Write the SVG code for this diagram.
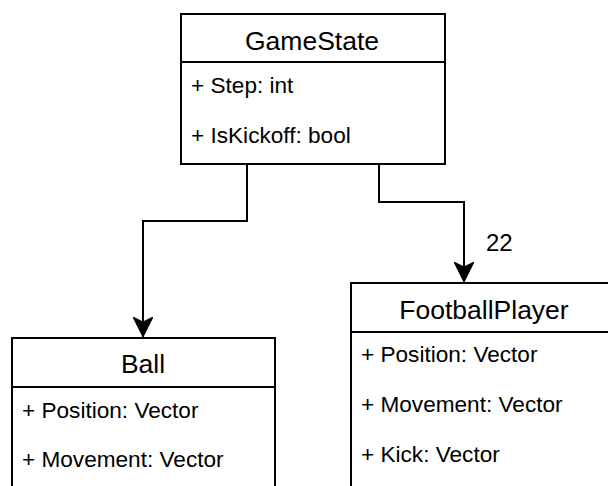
<svg xmlns="http://www.w3.org/2000/svg" width="608" height="486" viewBox="0 0 608 486">
  <style>
    .box { fill: #ffffff; stroke: #000000; stroke-width: 2; }
    .sep { stroke: #000000; stroke-width: 2; fill: none; }
    .title { font-family: "Liberation Sans", Arial, sans-serif; font-size: 26.5px; fill: #000000; text-anchor: middle; }
    .attr { font-family: "Liberation Sans", Arial, sans-serif; font-size: 22.6px; fill: #000000; }
    .edge { stroke: #000000; stroke-width: 2; fill: none; marker-end: url(#arrow); }
    .label { font-family: "Liberation Sans", Arial, sans-serif; font-size: 24px; fill: #000000; }
  </style>
  <defs>
    <marker id="arrow" viewBox="0 0 20 20" refX="20" refY="10" markerWidth="20" markerHeight="20" markerUnits="userSpaceOnUse" orient="auto">
      <path d="M0,0 L20,10 L0,20 L5,10 Z" fill="#000000" stroke="#000000" stroke-width="1"/>
    </marker>
  </defs>
  <rect width="608" height="486" fill="#ffffff"/>

  <g id="connectors">
    <path class="edge" d="M247,164 V221 H143 V337"/>
    <path class="edge" d="M379,164 V202 H464 V282"/>
    <text class="label" x="486" y="251">22</text>
  </g>

  <g id="GameState">
    <rect class="box" x="181" y="14" width="264" height="150"/>
    <line class="sep" x1="181" y1="62" x2="445" y2="62"/>
    <text class="title" x="312" y="50">GameState</text>
    <text class="attr" x="191" y="93">+ Step: int</text>
    <text class="attr" x="191" y="143">+ IsKickoff: bool</text>
  </g>

  <g id="Ball">
    <rect class="box" x="12" y="338" width="263" height="170"/>
    <line class="sep" x1="12" y1="387" x2="275" y2="387"/>
    <text class="title" x="143" y="373">Ball</text>
    <text class="attr" x="22" y="418">+ Position: Vector</text>
    <text class="attr" x="22" y="467">+ Movement: Vector</text>
  </g>

  <g id="FootballPlayer">
    <rect class="box" x="351" y="283" width="264" height="220"/>
    <line class="sep" x1="351" y1="332" x2="615" y2="332"/>
    <text class="title" x="484" y="319">FootballPlayer</text>
    <text class="attr" x="361" y="362">+ Position: Vector</text>
    <text class="attr" x="361" y="412">+ Movement: Vector</text>
    <text class="attr" x="361" y="462">+ Kick: Vector</text>
  </g>
</svg>
